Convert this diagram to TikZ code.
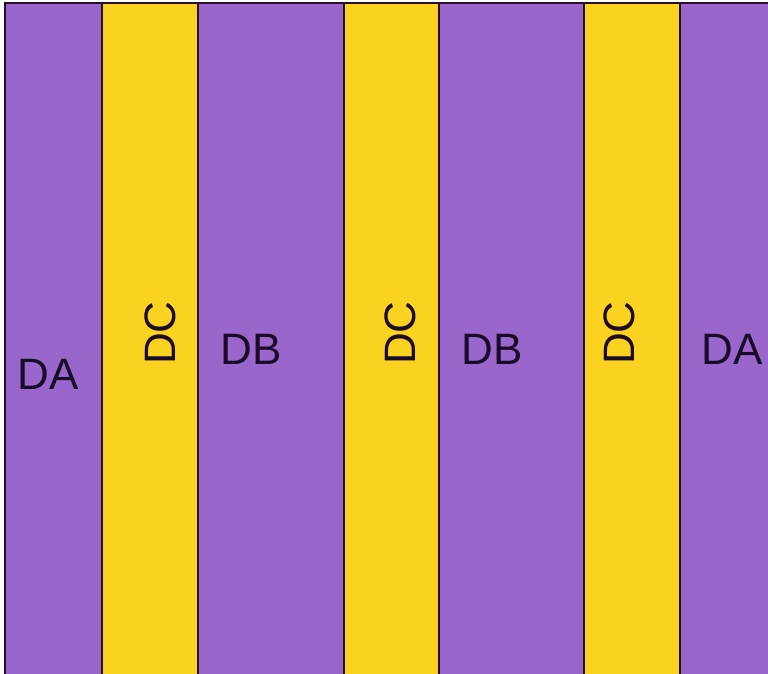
\documentclass[tikz,border=0pt]{standalone}
\usepackage{fontspec}
\setmainfont{Liberation Sans}
\usetikzlibrary{positioning}
\definecolor{mypurple}{RGB}{153,102,204}
\definecolor{myyellow}{RGB}{252,210,32}
\definecolor{mydark}{RGB}{40,16,36}
\definecolor{mytext}{RGB}{26,12,40}
\tikzset{
  band/.style={draw=mydark, line width=1.3pt},
  lbl/.style={inner sep=0pt, text=mytext, font=\fontsize{44}{44}\selectfont},
  vlbl/.style={lbl, rotate=90}
}

\begin{document}
\begin{tikzpicture}[x=1pt, y=-1pt]
  % Frame
  \fill[white] (0,0) rectangle (768,674);
  \useasboundingbox (0,0) rectangle (768,674);

  % Bands (left edge / right edge / colour)
  \foreach \xa/\xb/\col in {5/102/mypurple, 102/198/myyellow, 198/344/mypurple,
                            344/439/myyellow, 439/584/mypurple, 584/680/myyellow,
                            680/772/mypurple} {
    \draw[band, fill=\col] (\xa,3) rectangle (\xb,678);
  }

  % Labels
  \node[lbl]  (da1) at (48,374) {DA};
  \node[vlbl] (dc1) at (160,333) {DC};
  \node[lbl]  (db1) at (251,349) {DB};
  \node[vlbl] (dc2) at (400,333) {DC};
  \node[lbl]  (db2) at (492,349) {DB};
  \node[vlbl] (dc3) at (619,333) {DC};
  \node[lbl]  (da2) at (732,349) {DA};

\end{tikzpicture}
\end{document}
